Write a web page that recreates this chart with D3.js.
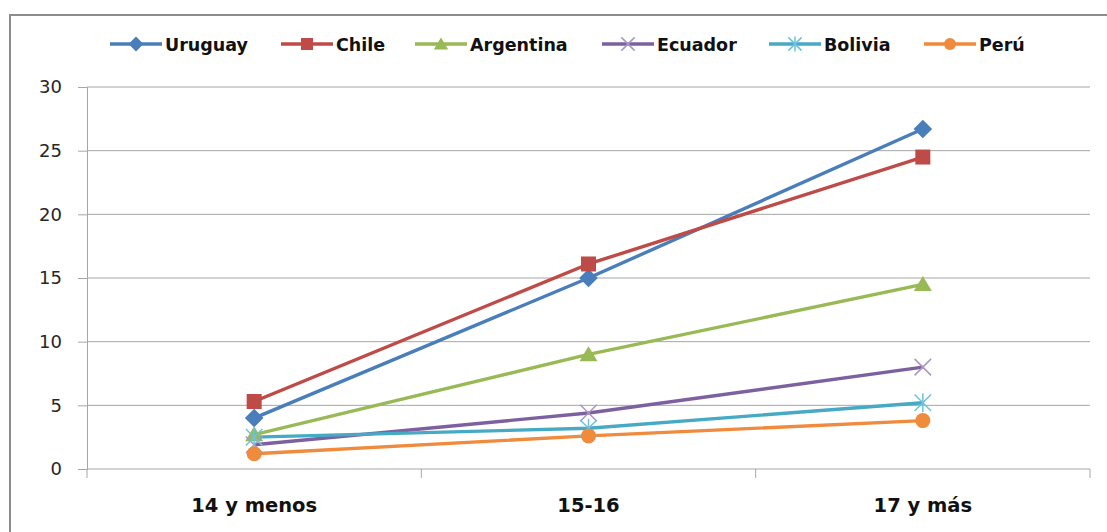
<!DOCTYPE html>
<html>
<head>
<meta charset="utf-8">
<script src="https://cdn.jsdelivr.net/npm/d3@7"></script>
<style>
  html, body { margin: 0; padding: 0; background: #fff; }
  svg { display: block; }
</style>
</head>
<body>
<svg id="chart" width="1107" height="532"></svg>
<script>
// Age groups on the x axis
const categories = ["14 y menos", "15-16", "17 y más"];

// One series per country
const countries = ["Uruguay", "Chile", "Argentina", "Ecuador", "Bolivia", "Perú"];
const uruguay   = [4.0, 15.0, 26.7];
const chile     = [5.3, 16.1, 24.5];
const argentina = [2.7, 9.0, 14.5];
const ecuador   = [1.9, 4.4, 8.0];
const bolivia   = [2.5, 3.2, 5.2];
const peru      = [1.2, 2.6, 3.8];

const yTicks = [0, 5, 10, 15, 20, 25, 30];

const colors  = ["#4A7EBB", "#BE4B48", "#98B954", "#7D60A0", "#46AAC5", "#F08A3C"];
const symbols = ["diamond", "square", "triangle", "x", "star", "circle"];
const seriesValues = [uruguay, chile, argentina, ecuador, bolivia, peru];

const series = countries.map((name, i) => ({
  name, color: colors[i], symbol: symbols[i], values: seriesValues[i]
}));

const svg = d3.select("#chart");

// Outer frame
svg.append("rect")
  .attr("x", 10).attr("y", 15).attr("width", 1110).attr("height", 540)
  .attr("fill", "none").attr("stroke", "#8c8c8c").attr("stroke-width", 2);

const plot = { left: 87, right: 1090, top: 87, bottom: 469 };

const x = d3.scaleBand().domain(categories).range([plot.left, plot.right]);
const y = d3.scaleLinear().domain([0, 30]).range([plot.bottom, plot.top]);

// Horizontal gridlines
svg.append("g")
  .selectAll("line")
  .data(yTicks.filter(t => t > 0))
  .join("line")
  .attr("x1", plot.left).attr("x2", plot.right)
  .attr("y1", d => y(d)).attr("y2", d => y(d))
  .attr("stroke", "#a6a6a6").attr("stroke-width", 1);

// Y axis
const yAxis = svg.append("g")
  .attr("transform", `translate(${plot.left},0)`)
  .call(d3.axisLeft(y).tickValues(yTicks).tickSize(9).tickPadding(16).tickFormat(d3.format("d")));
yAxis.select(".domain").attr("stroke", "#a6a6a6");
yAxis.selectAll(".tick line").attr("stroke", "#a6a6a6");
yAxis.selectAll("text")
  .attr("fill", "#262626")
  .style("font-family", "'DejaVu Sans', sans-serif")
  .style("font-size", "18px");

// X axis with boundary ticks between categories
const xAxis = svg.append("g")
  .attr("transform", `translate(0,${plot.bottom})`);
xAxis.append("line")
  .attr("x1", plot.left).attr("x2", plot.right)
  .attr("stroke", "#a6a6a6").attr("stroke-width", 1);
const bounds = categories.map(c => x(c)).concat([x(categories[categories.length - 1]) + x.bandwidth()]);
xAxis.selectAll("line.bound")
  .data(bounds)
  .join("line")
  .attr("class", "bound")
  .attr("x1", d => d).attr("x2", d => d)
  .attr("y1", 0).attr("y2", 9)
  .attr("stroke", "#a6a6a6");
xAxis.selectAll("text")
  .data(categories)
  .join("text")
  .attr("x", d => x(d) + x.bandwidth() / 2)
  .attr("y", 43)
  .attr("text-anchor", "middle")
  .attr("fill", "#111")
  .style("font-family", "'DejaVu Sans', sans-serif")
  .style("font-weight", "bold")
  .style("font-size", "19.5px")
  .text(d => d);

// Marker drawing helper
function drawMarker(g, type, color, size) {
  const s = size;
  if (type === "diamond") {
    g.append("path").attr("d", `M0,${-s*0.62}L${s*0.62},0L0,${s*0.62}L${-s*0.62},0Z`).attr("fill", color);
  } else if (type === "square") {
    g.append("rect").attr("x", -s/2).attr("y", -s/2).attr("width", s).attr("height", s).attr("fill", color);
  } else if (type === "triangle") {
    g.append("path").attr("d", `M0,${-s*0.55}L${s*0.6},${s*0.45}L${-s*0.6},${s*0.45}Z`).attr("fill", color);
  } else if (type === "circle") {
    g.append("circle").attr("r", s/2).attr("fill", color);
  } else if (type === "x") {
    const r = s * 0.55;
    g.append("path").attr("d", `M${-r},${-r}L${r},${r}M${-r},${r}L${r},${-r}`)
      .attr("stroke", "#a996c4").attr("stroke-width", 1.5).attr("fill", "none");
  } else if (type === "star") {
    const r = s * 0.55;
    g.append("path").attr("d", `M${-r},${-r}L${r},${r}M${-r},${r}L${r},${-r}M0,${-r*1.15}L0,${r*1.15}`)
      .attr("stroke", "#6cc3db").attr("stroke-width", 1.5).attr("fill", "none");
  }
}

// Series lines and markers
const line = d3.line()
  .x((d, i) => x(categories[i]) + x.bandwidth() / 2)
  .y(d => y(d));

series.forEach(s => {
  svg.append("path")
    .datum(s.values)
    .attr("d", line)
    .attr("fill", "none")
    .attr("stroke", s.color)
    .attr("stroke-width", 3.4)
    .attr("stroke-linejoin", "round");
});
series.forEach(s => {
  s.values.forEach((v, i) => {
    const g = svg.append("g")
      .attr("transform", `translate(${x(categories[i]) + x.bandwidth() / 2},${y(v)})`);
    drawMarker(g, s.symbol, s.color, 15);
  });
});

// Legend
const legendStarts = [110, 281, 415, 602, 769, 924];
const legend = svg.append("g");
series.forEach((s, i) => {
  const g = legend.append("g").attr("transform", `translate(${legendStarts[i]},44)`);
  g.append("line").attr("x1", 0).attr("x2", 52).attr("y1", 0).attr("y2", 0)
    .attr("stroke", s.color).attr("stroke-width", 3.4);
  const m = g.append("g").attr("transform", "translate(26,0)");
  drawMarker(m, s.symbol, s.color, 12);
  g.append("text")
    .attr("x", 55).attr("y", 6.5)
    .attr("fill", "#111")
    .style("font-family", "'DejaVu Sans', sans-serif")
    .style("font-weight", "bold")
    .style("font-size", "17.5px")
    .text(s.name);
});
</script>
</body>
</html>
